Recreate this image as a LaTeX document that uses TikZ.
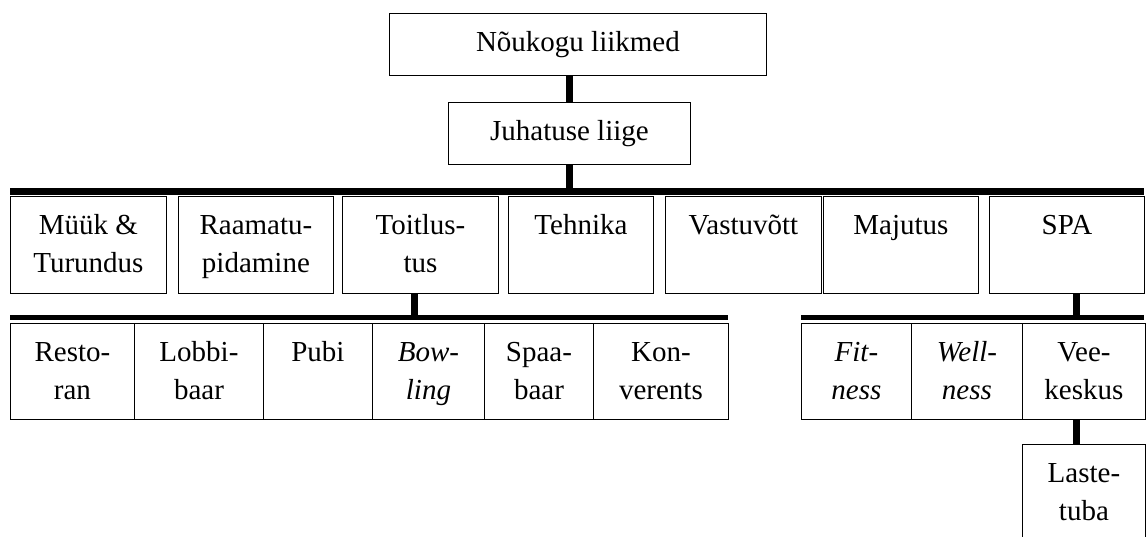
\documentclass[tikz,border=0pt]{standalone}
\usepackage{fontspec}
\setmainfont{Liberation Serif}
% top-aligned text block of a fixed size: width, height, text
\newcommand\unittext[3]{\parbox[t][#2][t]{#1}{\centering\rule{0pt}{38pt}#3}}
\begin{document}
\begin{tikzpicture}[x=1pt, y=-1pt,
  unit/.style={draw, line width=0.9pt, inner sep=0pt, anchor=north west,
               font=\fontsize{29}{38}\selectfont},
  link/.style={line width=7pt},
  bar/.style={line width=7pt},
  subbar/.style={line width=5pt}]
\useasboundingbox (0,0) rectangle (1146,536);
\clip (0,0) rectangle (1146,536);

% management levels
\node[unit] (nou) at (389,13)  {\unittext{377pt}{62pt}{Nõukogu liikmed}};
\node[unit] (juh) at (448,102) {\unittext{242pt}{62pt}{Juhatuse liige}};

% departments
\node[unit] (myyk) at (10,196)  {\unittext{156pt}{97pt}{Müük \&\\Turundus}};
\node[unit] (raam) at (178,196) {\unittext{155pt}{97pt}{Raamatu-\\pidamine}};
\node[unit] (toit) at (342,196) {\unittext{156pt}{97pt}{Toitlus-\\tus}};
\node[unit] (tehn) at (508,196) {\unittext{145pt}{97pt}{Tehnika}};
\node[unit] (vast) at (665,196) {\unittext{156pt}{97pt}{Vastuvõtt}};
\node[unit] (maju) at (823,196) {\unittext{155pt}{97pt}{Majutus}};
\node[unit] (spa)  at (989,196) {\unittext{155pt}{97pt}{SPA}};

% catering units
\node[unit] (rest) at (10,323)  {\unittext{124pt}{96pt}{Resto-\\ran}};
\node[unit] (lobb) at (134,323) {\unittext{129pt}{96pt}{Lobbi-\\baar}};
\node[unit] (pubi) at (263,323) {\unittext{109pt}{96pt}{Pubi}};
\node[unit] (bowl) at (372,323) {\unittext{112pt}{96pt}{\itshape Bow-\\ling}};
\node[unit] (spab) at (484,323) {\unittext{109pt}{96pt}{Spaa-\\baar}};
\node[unit] (konv) at (593,323) {\unittext{135pt}{96pt}{Kon-\\verents}};

% spa units
\node[unit] (fitn) at (801,323)  {\unittext{110pt}{96pt}{\itshape Fit-\\ness}};
\node[unit] (well) at (911,323)  {\unittext{111pt}{96pt}{\itshape Well-\\ness}};
\node[unit] (veek) at (1022,323) {\unittext{123pt}{96pt}{Vee-\\keskus}};
\node[unit] (last) at (1022,444) {\unittext{123pt}{110pt}{Laste-\\tuba}};

% horizontal bars
\coordinate (barL) at (10,191.5);
\coordinate (barR) at (1144,191.5);
\coordinate (catL) at (10,317.5);
\coordinate (catR) at (728,317.5);
\coordinate (spaL) at (801,317.5);
\coordinate (spaR) at (1144,317.5);
\draw[bar] (barL) -- (barR);
\draw[subbar] (catL) -- (catR);
\draw[subbar] (spaL) -- (spaR);

% vertical connectors
\draw[link] (juh.north) -- (juh.north |- nou.south);
\draw[link] (juh.south) -- (juh.south |- barL);
\draw[link] ([xshift=-6pt]toit.south) -- ([xshift=-6pt]toit.south |- catL);
\draw[link] ([xshift=9.5pt]spa.south) -- ([xshift=9.5pt]spa.south |- spaL);
\draw[link] ([xshift=-7.5pt]veek.south) -- ([xshift=-7.5pt]last.north);
\end{tikzpicture}
\end{document}
